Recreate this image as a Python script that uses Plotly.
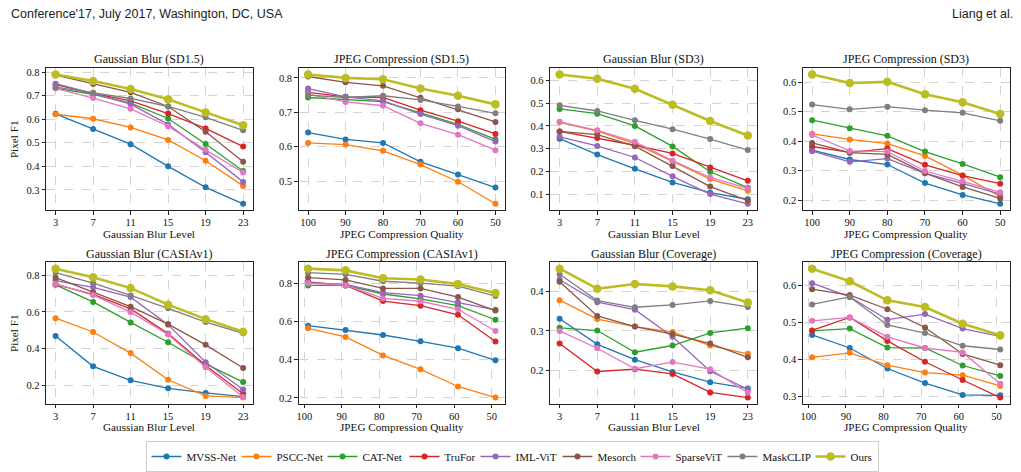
import plotly.graph_objects as go

# ---------------- data ----------------
methods = ["MVSS-Net", "PSCC-Net", "CAT-Net", "TruFor", "IML-ViT",
           "Mesorch", "SparseViT", "MaskCLIP", "Ours"]
colors = ["#1f77b4", "#ff7f0e", "#2ca02c", "#d62728", "#9467bd",
          "#8c564b", "#e377c2", "#7f7f7f", "#bcbd22"]
# approximate label widths in em (Times-like serif), used for legend spacing
label_em = [4.5, 4.22, 3.78, 2.83, 3.78, 3.5, 4.28, 4.39, 1.94]

blur_levels = [3, 7, 11, 15, 19, 23]
jpeg_ticks = [100, 90, 80, 70, 60, 50]
jpeg_x_top = [100, 90, 80, 70, 60, 50]
jpeg_x_bottom = [99, 89, 79, 69, 59, 49]

gb_sd15 = {
    "MVSS-Net": [0.623, 0.558, 0.494, 0.400, 0.311, 0.241],
    "PSCC-Net": [0.621, 0.602, 0.565, 0.512, 0.424, 0.317],
    "CAT-Net": [0.731, 0.706, 0.668, 0.603, 0.495, 0.380],
    "TruFor": [0.747, 0.710, 0.678, 0.624, 0.561, 0.484],
    "IML-ViT": [0.751, 0.710, 0.664, 0.578, 0.460, 0.334],
    "Mesorch": [0.787, 0.749, 0.714, 0.654, 0.547, 0.419],
    "SparseViT": [0.731, 0.690, 0.644, 0.570, 0.470, 0.374],
    "MaskCLIP": [0.736, 0.712, 0.688, 0.654, 0.608, 0.553],
    "Ours": [0.790, 0.762, 0.728, 0.685, 0.629, 0.574],
}
jpeg_sd15 = {
    "MVSS-Net": [0.641, 0.621, 0.611, 0.556, 0.519, 0.481],
    "PSCC-Net": [0.611, 0.606, 0.588, 0.548, 0.498, 0.434],
    "CAT-Net": [0.743, 0.737, 0.731, 0.698, 0.665, 0.621],
    "TruFor": [0.758, 0.745, 0.743, 0.706, 0.674, 0.637],
    "IML-ViT": [0.769, 0.745, 0.733, 0.695, 0.661, 0.615],
    "Mesorch": [0.804, 0.787, 0.777, 0.742, 0.709, 0.672],
    "SparseViT": [0.753, 0.730, 0.719, 0.668, 0.635, 0.590],
    "MaskCLIP": [0.750, 0.743, 0.748, 0.736, 0.717, 0.697],
    "Ours": [0.810, 0.800, 0.796, 0.769, 0.748, 0.723],
}
gb_sd3 = {
    "MVSS-Net": [0.344, 0.274, 0.211, 0.151, 0.106, 0.077],
    "PSCC-Net": [0.416, 0.377, 0.322, 0.244, 0.166, 0.114],
    "CAT-Net": [0.475, 0.454, 0.400, 0.310, 0.198, 0.128],
    "TruFor": [0.376, 0.347, 0.315, 0.279, 0.217, 0.158],
    "IML-ViT": [0.352, 0.312, 0.261, 0.178, 0.100, 0.057],
    "Mesorch": [0.376, 0.362, 0.311, 0.223, 0.133, 0.071],
    "SparseViT": [0.418, 0.381, 0.330, 0.247, 0.173, 0.125],
    "MaskCLIP": [0.491, 0.466, 0.425, 0.386, 0.342, 0.294],
    "Ours": [0.627, 0.608, 0.564, 0.494, 0.422, 0.358],
}
jpeg_sd3 = {
    "MVSS-Net": [0.370, 0.338, 0.321, 0.258, 0.218, 0.188],
    "PSCC-Net": [0.425, 0.406, 0.392, 0.350, 0.285, 0.212],
    "CAT-Net": [0.471, 0.444, 0.418, 0.365, 0.323, 0.278],
    "TruFor": [0.382, 0.362, 0.375, 0.320, 0.283, 0.256],
    "IML-ViT": [0.366, 0.330, 0.341, 0.291, 0.257, 0.221],
    "Mesorch": [0.394, 0.361, 0.355, 0.292, 0.245, 0.206],
    "SparseViT": [0.421, 0.367, 0.365, 0.299, 0.264, 0.227],
    "MaskCLIP": [0.524, 0.508, 0.517, 0.505, 0.496, 0.469],
    "Ours": [0.626, 0.597, 0.601, 0.559, 0.532, 0.492],
}
gb_casia = {
    "MVSS-Net": [0.469, 0.304, 0.228, 0.184, 0.159, 0.139],
    "PSCC-Net": [0.566, 0.491, 0.376, 0.231, 0.143, 0.134],
    "CAT-Net": [0.748, 0.655, 0.543, 0.435, 0.317, 0.218],
    "TruFor": [0.751, 0.696, 0.617, 0.482, 0.308, 0.155],
    "IML-ViT": [0.771, 0.734, 0.681, 0.531, 0.326, 0.178],
    "Mesorch": [0.787, 0.707, 0.629, 0.534, 0.421, 0.295],
    "SparseViT": [0.753, 0.692, 0.599, 0.477, 0.299, 0.137],
    "MaskCLIP": [0.814, 0.757, 0.690, 0.620, 0.545, 0.484],
    "Ours": [0.836, 0.789, 0.730, 0.640, 0.561, 0.492],
}
jpeg_casia = {
    "MVSS-Net": [0.579, 0.556, 0.530, 0.497, 0.461, 0.397],
    "PSCC-Net": [0.565, 0.520, 0.423, 0.350, 0.260, 0.202],
    "CAT-Net": [0.790, 0.790, 0.745, 0.719, 0.684, 0.610],
    "TruFor": [0.809, 0.790, 0.708, 0.684, 0.636, 0.496],
    "IML-ViT": [0.805, 0.795, 0.752, 0.736, 0.700, 0.662],
    "Mesorch": [0.831, 0.819, 0.774, 0.774, 0.729, 0.658],
    "SparseViT": [0.802, 0.791, 0.722, 0.707, 0.665, 0.551],
    "MaskCLIP": [0.857, 0.848, 0.812, 0.802, 0.786, 0.734],
    "Ours": [0.878, 0.869, 0.828, 0.821, 0.797, 0.750],
}
gb_cov = {
    "MVSS-Net": [0.331, 0.266, 0.227, 0.196, 0.170, 0.154],
    "PSCC-Net": [0.378, 0.330, 0.311, 0.297, 0.263, 0.242],
    "CAT-Net": [0.308, 0.301, 0.246, 0.263, 0.295, 0.307],
    "TruFor": [0.268, 0.197, 0.203, 0.191, 0.144, 0.131],
    "IML-ViT": [0.430, 0.373, 0.354, 0.285, 0.198, 0.152],
    "Mesorch": [0.425, 0.338, 0.311, 0.292, 0.268, 0.233],
    "SparseViT": [0.300, 0.256, 0.204, 0.221, 0.203, 0.143],
    "MaskCLIP": [0.444, 0.377, 0.360, 0.366, 0.376, 0.361],
    "Ours": [0.458, 0.407, 0.419, 0.413, 0.403, 0.372],
}
jpeg_cov = {
    "MVSS-Net": [0.466, 0.431, 0.376, 0.337, 0.305, 0.304],
    "PSCC-Net": [0.406, 0.418, 0.385, 0.365, 0.358, 0.329],
    "CAT-Net": [0.477, 0.483, 0.432, 0.431, 0.384, 0.356],
    "TruFor": [0.478, 0.513, 0.450, 0.394, 0.345, 0.298],
    "IML-ViT": [0.605, 0.568, 0.507, 0.522, 0.483, 0.462],
    "Mesorch": [0.589, 0.573, 0.535, 0.486, 0.415, 0.385],
    "SparseViT": [0.504, 0.513, 0.461, 0.431, 0.419, 0.335],
    "MaskCLIP": [0.548, 0.568, 0.493, 0.471, 0.437, 0.427],
    "Ours": [0.644, 0.610, 0.559, 0.541, 0.496, 0.465],
}

panel_titles = ["Gaussian Blur (SD1.5)", "JPEG Compression (SD1.5)",
                "Gaussian Blur (SD3)", "JPEG Compression (SD3)",
                "Gaussian Blur (CASIAv1)", "JPEG Compression (CASIAv1)",
                "Gaussian Blur (Coverage)", "JPEG Compression (Coverage)"]
panel_data = [gb_sd15, jpeg_sd15, gb_sd3, jpeg_sd3,
              gb_casia, jpeg_casia, gb_cov, jpeg_cov]
panel_x = [blur_levels, jpeg_x_top, blur_levels, jpeg_x_top,
           blur_levels, jpeg_x_bottom, blur_levels, jpeg_x_bottom]
panel_dtick = [0.1, 0.1, 0.1, 0.1, 0.2, 0.2, 0.1, 0.1]
x_titles = ["Gaussian Blur Level", "JPEG Compression Quality"]

# ---------------- layout geometry ----------------
W, H = 1021, 472
col_px = [(44.3, 251.0), (297.3, 503.8), (549.3, 756.7), (802.3, 1009.6)]
row_px = [(67.7, 211.5), (264.0, 407.3)]
xtitle_y = [235.5, 431]
SERIF = "Liberation Serif, Times New Roman, serif"
LEG_SIZE = 11

fig = go.Figure()
layout = {}
annotations = []

for p in range(8):
    r, c = divmod(p, 4)
    ax = "" if p == 0 else str(p + 1)
    data = panel_data[p]
    xs = panel_x[p]
    is_jpeg = (c % 2 == 1)
    for i, (m, col, em) in enumerate(zip(methods, colors, label_em)):
        ours = (m == "Ours")
        last = (i == len(methods) - 1)
        lw = round(em * LEG_SIZE) + 2 if last else round(em * LEG_SIZE) - 5
        fig.add_trace(go.Scatter(
            x=xs, y=data[m], mode="lines+markers", name=m,
            legendgroup=m, showlegend=(p == 0),
            legendwidth=lw,
            line=dict(color=col, width=2.6 if ours else 1.3),
            marker=dict(color=col, size=8.5 if ours else 6),
            xaxis="x" + ax, yaxis="y" + ax,
        ))
    allv = [v for m in methods for v in data[m]]
    lo, hi = min(allv), max(allv)
    pad = 0.05 * (hi - lo)
    xlo, xhi = min(xs), max(xs)
    xpad = 0.05 * (xhi - xlo)
    xrange = [xhi + xpad, xlo - xpad] if is_jpeg else [xlo - xpad, xhi + xpad]
    common = dict(showline=True, mirror=True, linecolor="#222222", linewidth=1,
                  ticks="outside", ticklen=3.5, tickwidth=0.8, tickcolor="#222222",
                  showgrid=True, gridcolor="#d4d4d4", griddash="dash", gridwidth=0.8,
                  zeroline=False, tickfont=dict(family=SERIF, size=10.5, color="#111111"))
    layout["xaxis" + ax] = dict(
        domain=[col_px[c][0] / W, col_px[c][1] / W], anchor="y" + ax,
        range=xrange, tickmode="array",
        tickvals=jpeg_ticks if is_jpeg else blur_levels,
        ticktext=[str(t) for t in (jpeg_ticks if is_jpeg else blur_levels)],
        ticklabelstandoff=-1,
        **common)
    layout["yaxis" + ax] = dict(
        domain=[1 - row_px[r][1] / H, 1 - row_px[r][0] / H], anchor="x" + ax,
        range=[lo - pad, hi + pad], dtick=panel_dtick[p], tickformat=".1f",
        **common)
    xc = (col_px[c][0] + col_px[c][1]) / 2 / W
    annotations.append(dict(
        x=xc, y=1 - (row_px[r][0] + 0.5) / H, xref="paper", yref="paper",
        text=panel_titles[p], showarrow=False, xanchor="center", yanchor="bottom",
        font=dict(family=SERIF, size=12, color="#111111")))
    annotations.append(dict(
        x=xc, y=1 - xtitle_y[r] / H, xref="paper", yref="paper",
        text=x_titles[c % 2], showarrow=False, xanchor="center", yanchor="middle",
        font=dict(family=SERIF, size=11.2, color="#111111")))
    if c == 0:
        annotations.append(dict(
            x=12 / W, y=1 - (row_px[r][0] + row_px[r][1]) / 2 / H,
            xref="paper", yref="paper", text="Pixel F1", textangle=-90,
            showarrow=False, xanchor="center", yanchor="middle",
            font=dict(family=SERIF, size=11.2, color="#111111")))

annotations.append(dict(
    x=7 / W, y=1 - 13 / H, xref="paper", yref="paper",
    text="Conference'17, July 2017, Washington, DC, USA", showarrow=False,
    xanchor="left", yanchor="middle",
    font=dict(family="Liberation Sans, Arial, sans-serif", size=12.5, color="#222222")))
annotations.append(dict(
    x=1015 / W, y=1 - 13 / H, xref="paper", yref="paper",
    text="Liang et al.", showarrow=False, xanchor="right", yanchor="middle",
    font=dict(family="Liberation Sans, Arial, sans-serif", size=12.5, color="#222222")))

fig.update_layout(
    width=W, height=H, margin=dict(l=0, r=0, t=0, b=0),
    paper_bgcolor="white", plot_bgcolor="white",
    annotations=annotations,
    legend=dict(orientation="h", x=512 / W, xanchor="center",
                y=1 - 445 / H, yanchor="top",
                bordercolor="#cccccc", borderwidth=1, bgcolor="white",
                font=dict(family=SERIF, size=LEG_SIZE, color="#111111"),
                tracegroupgap=0, itemwidth=30),
    **layout,
)

fig.write_html("out.html")
